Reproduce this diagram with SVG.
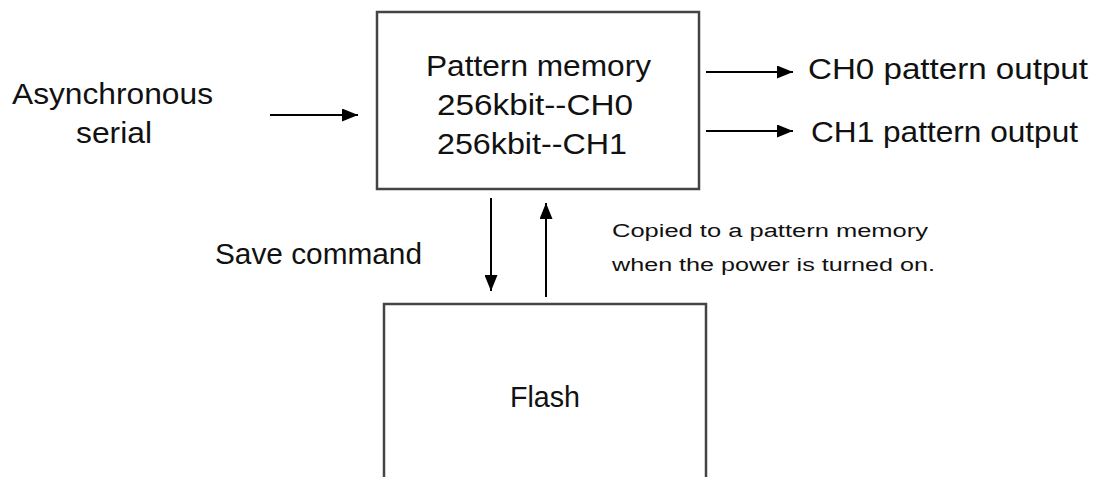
<svg xmlns="http://www.w3.org/2000/svg" width="1095" height="477" viewBox="0 0 1095 477">
<style>
.box{fill:#fff;stroke:#444;stroke-width:2.5}
.line{stroke:#000;stroke-width:2;fill:none}
.t{font-family:"Liberation Sans",Arial,sans-serif;fill:#111;font-size:29px}
.s{font-family:"Liberation Sans",Arial,sans-serif;fill:#111;font-size:18px}
</style>
<defs>
<marker id="ah" viewBox="0 0 16 13" refX="16" refY="6.5" markerWidth="16" markerHeight="13" markerUnits="userSpaceOnUse" orient="auto">
<path d="M0,0 L16,6.5 L0,13 Z" fill="#000"/>
</marker>
</defs>
<rect width="1095" height="477" fill="#fff"/>
<g id="input-label">
<text class="t" x="12" y="104" textLength="201" lengthAdjust="spacingAndGlyphs">Asynchronous</text>
<text class="t" x="76" y="143" textLength="76" lengthAdjust="spacingAndGlyphs">serial</text>
</g>
<g id="pattern-memory">
<rect class="box" x="377" y="12" width="322" height="177"/>
<text class="t" x="426" y="76" textLength="225" lengthAdjust="spacingAndGlyphs">Pattern memory</text>
<text class="t" x="437" y="115" textLength="196" lengthAdjust="spacingAndGlyphs">256kbit--CH0</text>
<text class="t" x="437" y="154" textLength="190" lengthAdjust="spacingAndGlyphs">256kbit--CH1</text>
</g>
<g id="flash">
<rect class="box" x="384" y="304" width="322" height="190"/>
<text class="t" x="510" y="407" textLength="70" lengthAdjust="spacingAndGlyphs">Flash</text>
</g>
<g id="outputs">
<text class="t" x="808" y="79" textLength="280" lengthAdjust="spacingAndGlyphs">CH0 pattern output</text>
<text class="t" x="811" y="142" textLength="267" lengthAdjust="spacingAndGlyphs">CH1 pattern output</text>
</g>
<g id="labels">
<text class="t" x="215" y="264" textLength="207" lengthAdjust="spacingAndGlyphs">Save command</text>
<text class="s" x="612" y="237" textLength="316" lengthAdjust="spacingAndGlyphs">Copied to a pattern memory</text>
<text class="s" x="612" y="271" textLength="323" lengthAdjust="spacingAndGlyphs">when the power is turned on.</text>
</g>
<g id="connectors">
<line class="line" x1="270" y1="115" x2="358" y2="115" marker-end="url(#ah)"/>
<line class="line" x1="706" y1="72" x2="793" y2="72" marker-end="url(#ah)"/>
<line class="line" x1="706" y1="131" x2="793" y2="131" marker-end="url(#ah)"/>
<line class="line" x1="491" y1="198" x2="491" y2="291" marker-end="url(#ah)"/>
<line class="line" x1="546" y1="297" x2="546" y2="203" marker-end="url(#ah)"/>
</g>
</svg>
